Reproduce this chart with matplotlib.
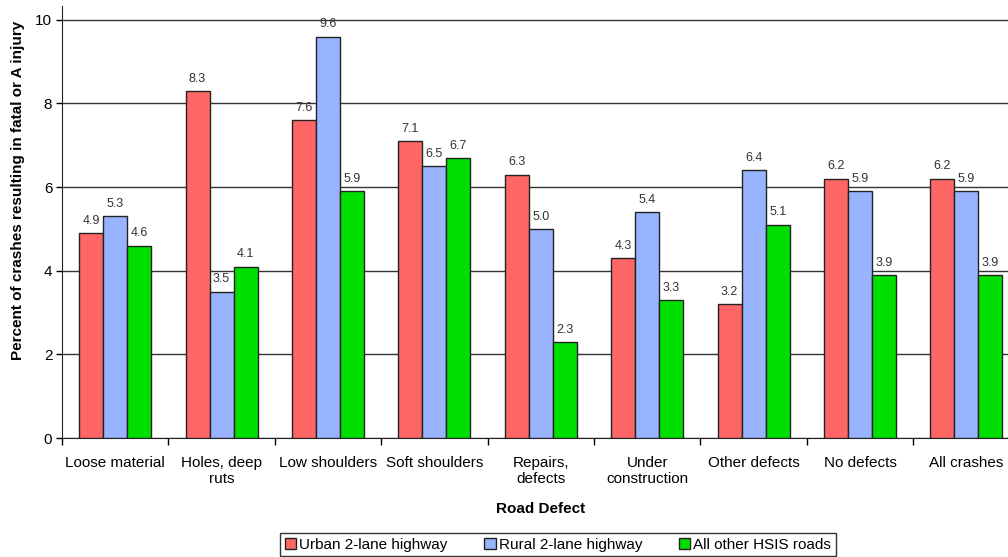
import matplotlib.pyplot as plt
import numpy as np

plt.rcParams['font.family'] = ['Liberation Sans', 'DejaVu Sans']

# Road defect categories and the three road-type series
categories = ['Loose material', 'Holes, deep\nruts', 'Low shoulders', 'Soft shoulders',
              'Repairs,\ndefects', 'Under\nconstruction', 'Other defects', 'No defects',
              'All crashes']
urban = [4.9, 8.3, 7.6, 7.1, 6.3, 4.3, 3.2, 6.2, 6.2]
rural = [5.3, 3.5, 9.6, 6.5, 5.0, 5.4, 6.4, 5.9, 5.9]
other = [4.6, 4.1, 5.9, 6.7, 2.3, 3.3, 5.1, 3.9, 3.9]
series_names = ['Urban 2-lane highway', 'Rural 2-lane highway', 'All other HSIS roads']
colors = ['#FF6666', '#99B4FF', '#00E000']

fig = plt.figure(figsize=(10.08, 5.57), dpi=100)
ax = fig.add_axes([62 / 1008, 1 - 438 / 557, 957.6 / 1008, 432 / 557])

x = np.arange(len(categories))
w = 0.226
for i, (vals, name, col) in enumerate(zip([urban, rural, other], series_names, colors)):
    pos = x + (i - 1) * w
    ax.bar(pos, vals, width=w, color=col, edgecolor='#222222', linewidth=1,
           label=name, zorder=3)
    for xp, v in zip(pos, vals):
        ax.annotate(f'{v:.1f}', (xp, v), xytext=(0, 4.5), textcoords='offset points',
                    ha='center', va='bottom', fontsize=9, color='#333333')

ax.set_xlim(-0.5, len(categories) - 0.5)
ax.set_ylim(0, 10.33)
ax.set_yticks([0, 2, 4, 6, 8, 10])
ax.tick_params(axis='y', labelsize=11, length=4, width=1, direction='out', pad=3)
ax.yaxis.grid(True, color='#333333', linewidth=1, zorder=0)

# category labels centred, tick marks between categories
ax.set_xticks(x)
ax.set_xticklabels(categories, fontsize=11, linespacing=1.15)
ax.tick_params(axis='x', length=0, pad=13)
ax.set_xticks(np.arange(len(categories) + 1) - 0.5, minor=True)
ax.tick_params(axis='x', which='minor', length=5, width=1, direction='out')

for s in ['top', 'right']:
    ax.spines[s].set_visible(False)
ax.spines['left'].set_color('#222222')
ax.spines['bottom'].set_color('#222222')

ax.set_xlabel('Road Defect', fontsize=11, fontweight='bold', labelpad=12)
ax.set_ylabel('Percent of crashes resulting in fatal or A injury', fontsize=11,
              fontweight='bold')
ax.yaxis.set_label_coords(-37 / 957.6, (438 - 190) / 432)

leg = fig.legend(loc='upper left', bbox_to_anchor=(280 / 1008, 1 - 533 / 557), ncol=3,
                 fontsize=11, frameon=True, fancybox=False, handlelength=0.75,
                 handleheight=0.75, handletextpad=0.2, columnspacing=2.4,
                 borderpad=0.3, borderaxespad=0)
leg.get_frame().set_edgecolor('black')
leg.get_frame().set_linewidth(1)

fig.savefig('out.png', dpi=100)
